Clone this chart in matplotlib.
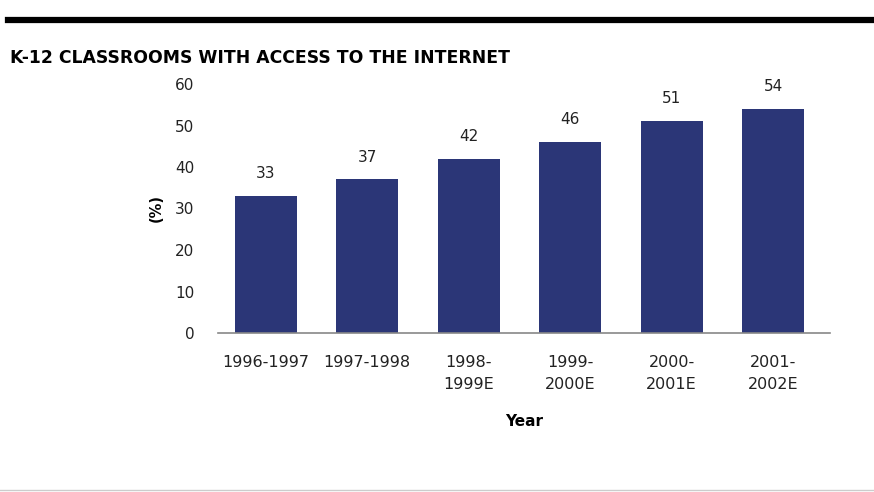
import matplotlib.pyplot as plt
from matplotlib.lines import Line2D

years = ["1996-1997", "1997-1998", "1998-\n1999E", "1999-\n2000E", "2000-\n2001E", "2001-\n2002E"]
pct = [33, 37, 42, 46, 51, 54]
yticks = [0, 10, 20, 30, 40, 50, 60]

navy = "#2b3677"
txt = "#222222"

fig = plt.figure(figsize=(8.74, 4.92), dpi=100)
ax = fig.add_axes([218/874, 1-333/492, (830-218)/874, (333-84)/492])

x = list(range(len(pct)))
ax.bar(x, pct, width=0.61, color=navy)
for i, v in zip(x, pct):
    ax.text(i, v + 3.6, str(v), ha="center", va="bottom", fontsize=11, color=txt)

ax.set_xlim(-0.47, 5.56)
ax.set_ylim(0, 60)
ax.set_yticks(yticks)
ax.set_xticks(x)
ax.set_xticklabels(years, fontsize=11.5, color=txt, linespacing=1.55, va="top")
ax.tick_params(axis="y", length=0, pad=17, labelsize=11, labelcolor=txt)
ax.tick_params(axis="x", length=0, pad=16)
for s in ["top", "right", "left"]:
    ax.spines[s].set_visible(False)
ax.spines["bottom"].set_color("#888888")
ax.spines["bottom"].set_linewidth(1.2)

ax.set_ylabel("(%)", fontsize=10.5, fontweight="bold", labelpad=8)
ax.set_xlabel("Year", fontsize=11, fontweight="bold", labelpad=16)

# top rule and title
fig.add_artist(Line2D([8/874, 1.0], [1-20/492, 1-20/492], color="black", lw=4.5,
                      transform=fig.transFigure))
fig.text(10/874, 1-58/492, "K-12 CLASSROOMS WITH ACCESS TO THE INTERNET",
         fontsize=12.4, fontweight="bold", va="center", ha="left")
fig.add_artist(Line2D([0, 1.0], [1-490/492, 1-490/492], color="#cccccc", lw=1,
                      transform=fig.transFigure))

fig.savefig("out.png", dpi=100)
